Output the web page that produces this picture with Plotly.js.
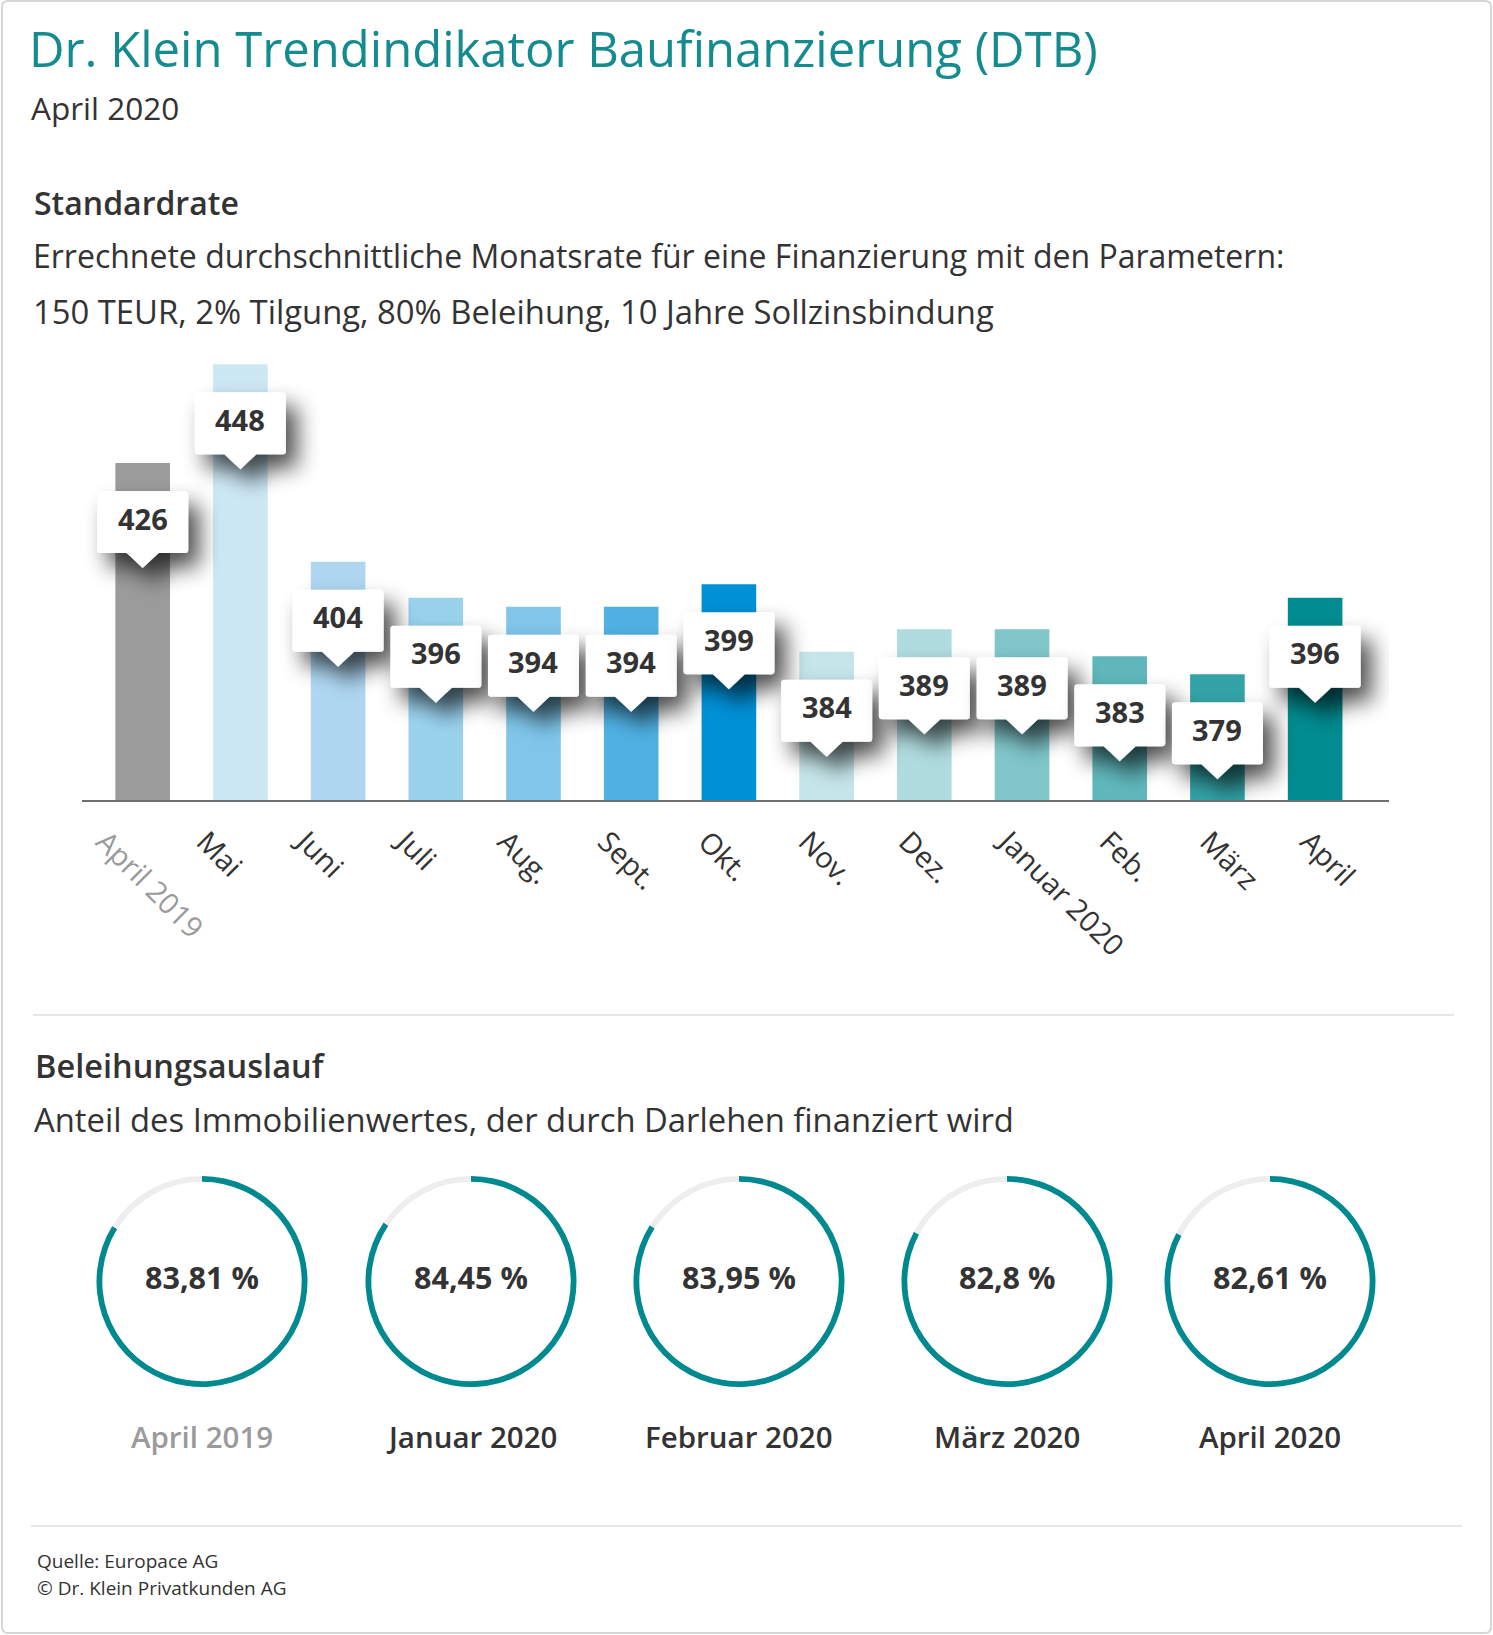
<!DOCTYPE html>
<html>
<head>
<meta charset="utf-8">
<script src="https://cdn.plot.ly/plotly-3.0.1.min.js"></script>
<style>
  html, body { margin: 0; padding: 0; background: #ffffff; }
  #chart { width: 1493px; height: 1635px; }
  .js-plotly-plot .layer-above .shapelayer path { filter: url(#boxshadow); }
</style>
</head>
<body>
<svg width="0" height="0" style="position:absolute">
  <defs>
    <filter id="boxshadow" x="-60%" y="-60%" width="230%" height="230%">
      <feGaussianBlur in="SourceAlpha" stdDeviation="11"/>
      <feOffset dx="11" dy="14" result="blur"/>
      <feComponentTransfer><feFuncA type="linear" slope="0.7"/></feComponentTransfer>
      <feMerge><feMergeNode/><feMergeNode in="SourceGraphic"/></feMerge>
    </filter>
  </defs>
</svg>
<div id="chart"></div>
<script>
// ---------- data ----------
const categories = ['April 2019', 'Mai', 'Juni', 'Juli', 'Aug.', 'Sept.', 'Okt.', 'Nov.', 'Dez.', 'Januar 2020', 'Feb.', 'März', 'April'];
const rates = [426, 448, 404, 396, 394, 394, 399, 384, 389, 389, 383, 379, 396];
const barColors = ['#9b9b9b', '#cde8f5', '#aed6f1', '#9ad2ee', '#7fc6ea', '#4fb1e3', '#0090d6', '#c5e5e9', '#b0dcdf', '#80c6ca', '#5fb7bb', '#33a3a7', '#008c90'];
const ltvPeriods = ['April 2019', 'Januar 2020', 'Februar 2020', 'März 2020', 'April 2020'];
const ltvValues = [83.81, 84.45, 83.95, 82.8, 82.61];

// ---------- layout helpers ----------
const W = 1493, H = 1635;
const px = x => x / W;
const py = y => 1 - y / H;
const FONT = '"Open Sans", "Source Sans Pro", Lato, sans-serif';
const DARK = '#333333';
const GREY = '#9a9a9a';
const TEAL = '#00898f';

const tickText = categories.map((c, i) => i === 0 ? '<span style="color:' + GREY + '">' + c + '</span>' : c);
const tickPos = categories.map((c, i) => i);

const traces = [];
traces.push({
  type: 'bar',
  x: categories,
  y: rates,
  marker: { color: barColors, line: { width: 0 } },
  hoverinfo: 'skip',
  showlegend: false,
  xaxis: 'x', yaxis: 'y'
});
// carrier for the month label axis (draws nothing itself)
traces.push({
  type: 'scatter', mode: 'none',
  x: tickPos, y: rates,
  hoverinfo: 'skip', showlegend: false,
  xaxis: 'x2', yaxis: 'y'
});

const ringCenters = [202, 471, 739, 1007, 1270];
const ringCY = 1281.5, ringR = 105.5;
ltvValues.forEach((v, k) => {
  const cx = ringCenters[k];
  traces.push({
    type: 'pie',
    values: [v, 100 - v],
    marker: { colors: [TEAL, '#eeeeee'], line: { width: 0 } },
    hole: 0.945,
    sort: false,
    direction: 'clockwise',
    rotation: 0,
    textinfo: 'none',
    hoverinfo: 'skip',
    showlegend: false,
    domain: { x: [px(cx - ringR), px(cx + ringR)], y: [py(ringCY + ringR), py(ringCY - ringR)] }
  });
});

// ---------- shapes ----------
const shapes = [];
shapes.push({
  type: 'path', xref: 'paper', yref: 'paper', layer: 'below',
  path: `M ${px(8)},${py(1)} L ${px(1485)},${py(1)} Q ${px(1491)},${py(1)} ${px(1491)},${py(7)} L ${px(1491)},${py(1627)} Q ${px(1491)},${py(1633)} ${px(1485)},${py(1633)} L ${px(8)},${py(1633)} Q ${px(2)},${py(1633)} ${px(2)},${py(1627)} L ${px(2)},${py(7)} Q ${px(2)},${py(1)} ${px(8)},${py(1)} Z`,
  line: { color: '#d6d6d6', width: 2 }, fillcolor: 'rgba(0,0,0,0)'
});
shapes.push({ type: 'line', xref: 'paper', yref: 'paper', layer: 'below', x0: px(33), x1: px(1454), y0: py(1015), y1: py(1015), line: { color: '#e6e6e6', width: 2 } });
shapes.push({ type: 'line', xref: 'paper', yref: 'paper', layer: 'below', x0: px(31), x1: px(1462), y0: py(1526), y1: py(1526), line: { color: '#e6e6e6', width: 2 } });

const calloutPath = 'M -42.5,-28 L 42.5,-28 Q 45.5,-28 45.5,-31 L 45.5,-87 Q 45.5,-90 42.5,-90 L 16,-90 L 0,-105 L -16,-90 L -42.5,-90 Q -45.5,-90 -45.5,-87 L -45.5,-31 Q -45.5,-28 -42.5,-28 Z';
rates.forEach((v, i) => {
  shapes.push({
    type: 'path', xref: 'x', yref: 'y', layer: 'above',
    xsizemode: 'pixel', ysizemode: 'pixel', xanchor: i, yanchor: v,
    path: calloutPath, fillcolor: '#ffffff', line: { width: 0 }
  });
});

// ---------- annotations ----------
const annotations = [];
function txt(text, x, yc, size, weight, color, xanchor) {
  return {
    text: text, xref: 'paper', yref: 'paper', x: px(x), y: py(yc),
    xanchor: xanchor || 'left', yanchor: 'middle', showarrow: false, borderpad: 0,
    font: { family: FONT, size: size, color: color || DARK, weight: weight || 400 }
  };
}
annotations.push(txt('April 2020', 30, 107, 31.5));
annotations.push(txt('Standardrate', 33, 202, 32, 600));
annotations.push(txt('Errechnete durchschnittliche Monatsrate für eine Finanzierung mit den Parametern:', 32, 256, 32));
annotations.push(txt('150 TEUR, 2% Tilgung, 80% Beleihung, 10 Jahre Sollzinsbindung', 32, 311, 32.8));
annotations.push(txt('Beleihungsauslauf', 34, 1065, 32.5, 600));
annotations.push(txt('Anteil des Immobilienwertes, der durch Darlehen finanziert wird', 33, 1119, 32.8));
annotations.push(txt('Quelle: Europace AG', 36, 1561, 19));
annotations.push(txt('© Dr. Klein Privatkunden AG', 36, 1588, 19));

rates.forEach((v, i) => {
  annotations.push({
    text: String(v), xref: 'x', yref: 'y', x: i, y: v,
    xanchor: 'center', yanchor: 'middle', yshift: -55, showarrow: false,
    font: { family: FONT, size: 29, color: DARK, weight: 700 }
  });
});

ltvValues.forEach((v, k) => {
  annotations.push(txt(String(v).replace('.', ',') + ' %', ringCenters[k], 1277, 30.5, 700, DARK, 'center'));
  annotations.push(txt(ltvPeriods[k], ringCenters[k], 1436, 29.5, 600, k === 0 ? GREY : DARK, 'center'));
});

const layout = {
  width: W, height: H,
  margin: { l: 0, r: 0, t: 0, b: 0, pad: 0 },
  paper_bgcolor: '#ffffff', plot_bgcolor: 'rgba(0,0,0,0)',
  font: { family: FONT, color: DARK },
  title: {
    text: 'Dr. Klein Trendindikator Baufinanzierung (DTB)',
    x: px(29), xanchor: 'left', xref: 'paper',
    y: py(50), yanchor: 'middle', yref: 'container',
    font: { family: FONT, size: 49, color: '#138b8f' }
  },
  showlegend: false,
  bargap: 0.441,
  xaxis: {
    type: 'category',
    domain: [px(82), px(1389)],
    range: [-0.621, 12.756],
    showline: true, linecolor: '#6e6e6e', linewidth: 2,
    showgrid: false, zeroline: false, ticks: '',
    showticklabels: false,
    fixedrange: true
  },
  // label axis: same plot area, month labels set slightly wider apart than the bars
  xaxis2: {
    overlaying: 'x', anchor: 'y', side: 'bottom',
    type: 'linear',
    range: [-0.225, 12.80],
    showline: false, showgrid: false, zeroline: false, ticks: '',
    tickmode: 'array', tickvals: tickPos, ticktext: tickText,
    tickangle: 45,
    ticklabelstandoff: 18,
    tickfont: { family: FONT, size: 29, color: DARK },
    fixedrange: true
  },
  yaxis: {
    domain: [py(800), py(310)],
    range: [351, 460.06],
    visible: false, showgrid: false, zeroline: false, fixedrange: true
  },
  shapes: shapes,
  annotations: annotations
};

Plotly.newPlot('chart', traces, layout, { staticPlot: true, displayModeBar: false });
</script>
</body>
</html>
